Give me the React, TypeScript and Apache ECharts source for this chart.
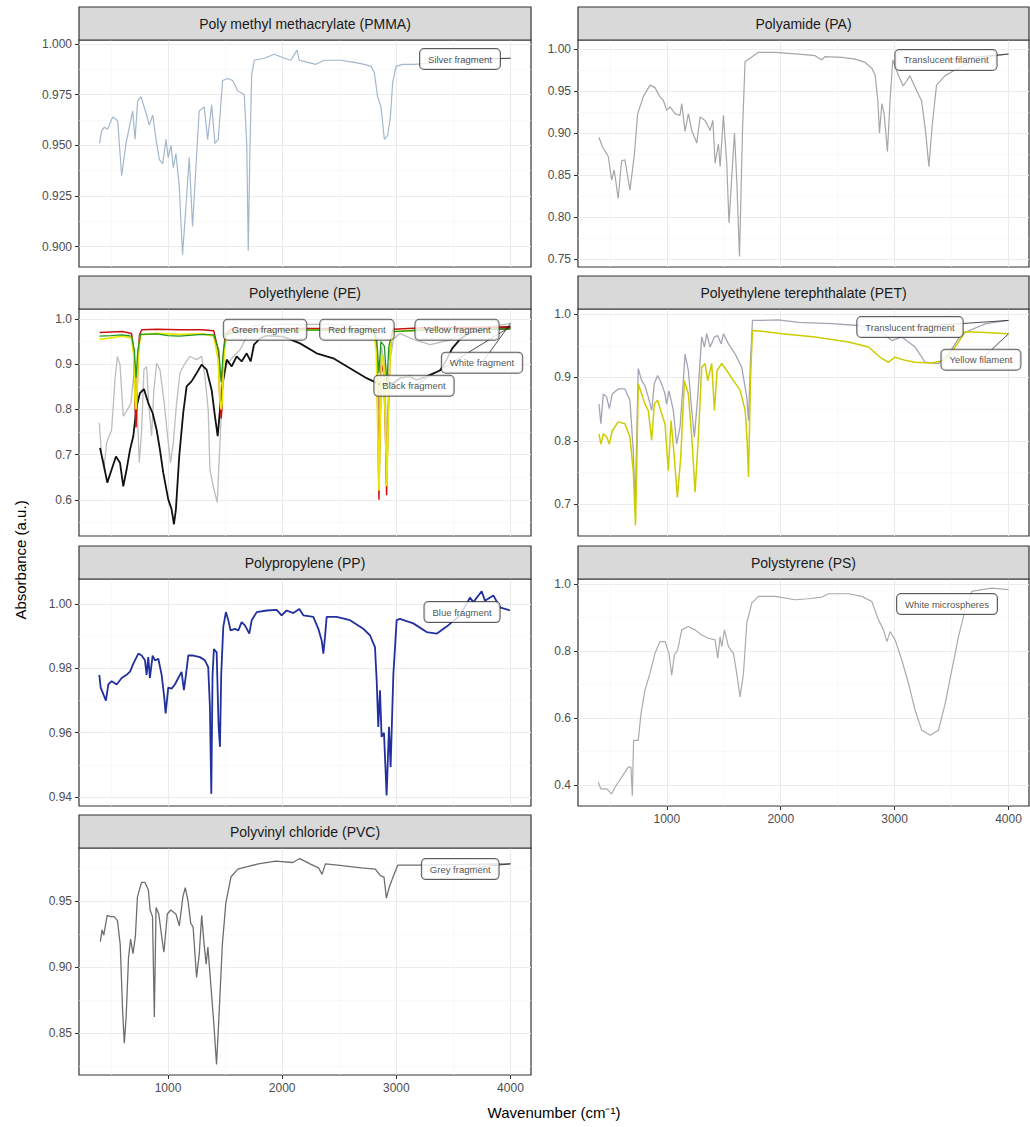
import React, { useEffect, useRef } from "react";
import * as echarts from "echarts";

const X_MIN = 220;
const X_MAX = 4180;
const X_TICKS = [1000, 2000, 3000, 4000];
const X_MINOR = [500, 1500, 2500, 3500];

const PMMA_SILVER = [[400,0.951],[418,0.957],[442,0.959],[470,0.958],[515,0.964],[540,0.963],[559,0.962],[594,0.935],[632,0.951],[661,0.959],[690,0.967],[711,0.953],[734,0.972],[763,0.974],[807,0.966],[836,0.960],[866,0.965],[895,0.953],[924,0.943],[953,0.941],[982,0.953],[1002,0.944],[1026,0.950],[1046,0.939],[1069,0.946],[1098,0.930],[1127,0.896],[1157,0.920],[1186,0.944],[1215,0.910],[1244,0.939],[1273,0.967],[1317,0.969],[1347,0.953],[1382,0.970],[1411,0.951],[1440,0.953],[1478,0.982],[1522,0.983],[1566,0.982],[1610,0.977],[1668,0.975],[1690,0.950],[1703,0.898],[1718,0.950],[1733,0.985],[1756,0.992],[1844,0.993],[1931,0.995],[2019,0.993],[2077,0.992],[2130,0.997],[2150,0.992],[2223,0.991],[2296,0.990],[2369,0.992],[2515,0.992],[2632,0.991],[2720,0.990],[2778,0.989],[2807,0.986],[2836,0.974],[2866,0.969],[2895,0.953],[2924,0.955],[2948,0.964],[2968,0.981],[2997,0.989],[3056,0.990],[3158,0.990],[3400,0.991],[3700,0.992],[4000,0.993]];

const PA_TRANSLUCENT = [[404,0.895],[433,0.884],[486,0.872],[515,0.844],[538,0.856],[573,0.822],[603,0.867],[632,0.868],[676,0.832],[714,0.873],[744,0.923],[793,0.943],[852,0.957],[896,0.954],[940,0.943],[969,0.939],[999,0.927],[1028,0.931],[1072,0.923],[1116,0.921],[1131,0.935],[1160,0.902],[1189,0.923],[1219,0.903],[1263,0.888],[1292,0.919],[1336,0.915],[1380,0.903],[1404,0.915],[1424,0.864],[1453,0.887],[1468,0.860],[1497,0.921],[1526,0.864],[1546,0.793],[1570,0.848],[1594,0.900],[1614,0.844],[1638,0.753],[1664,0.901],[1687,0.985],[1731,0.989],[1804,0.996],[1951,0.996],[2156,0.994],[2302,0.992],[2360,0.987],[2390,0.991],[2536,0.990],[2653,0.988],[2741,0.984],[2800,0.977],[2829,0.969],[2853,0.938],[2867,0.900],[2888,0.935],[2908,0.923],[2937,0.878],[2961,0.941],[2984,0.987],[3032,0.969],[3076,0.956],[3134,0.968],[3178,0.955],[3237,0.938],[3272,0.902],[3301,0.860],[3330,0.909],[3368,0.957],[3441,0.968],[3529,0.975],[3617,0.981],[3800,0.990],[4000,0.994]];

const PE_WHITE = [[398,0.770],[418,0.696],[439,0.667],[462,0.726],[506,0.755],[535,0.865],[556,0.917],[579,0.899],[608,0.785],[643,0.799],[675,0.814],[710,0.902],[730,0.799],[748,0.682],[769,0.755],[789,0.888],[812,0.895],[835,0.799],[856,0.741],[876,0.843],[900,0.902],[929,0.888],[967,0.814],[996,0.741],[1022,0.682],[1046,0.726],[1075,0.814],[1104,0.880],[1148,0.902],[1192,0.917],[1250,0.910],[1294,0.917],[1323,0.873],[1352,0.799],[1367,0.667],[1396,0.630],[1431,0.594],[1455,0.726],[1478,0.858],[1514,0.899],[1572,0.917],[1631,0.932],[1689,0.961],[1747,0.985],[2000,0.988],[2400,0.988],[2750,0.985],[2820,0.975],[2848,0.800],[2870,0.940],[2895,0.900],[2917,0.730],[2940,0.900],[2975,0.955],[3030,0.968],[3150,0.955],[3296,0.943],[3450,0.952],[3558,0.965],[3750,0.980],[4000,0.990]];

const PE_BLACK = [[404,0.715],[433,0.682],[468,0.638],[506,0.667],[544,0.696],[579,0.682],[608,0.630],[637,0.667],[667,0.711],[696,0.741],[725,0.807],[754,0.836],[789,0.845],[827,0.814],[865,0.792],[900,0.755],[929,0.711],[958,0.660],[1002,0.601],[1031,0.579],[1052,0.546],[1069,0.579],[1098,0.696],[1133,0.792],[1163,0.851],[1206,0.862],[1250,0.880],[1294,0.899],[1338,0.888],[1382,0.843],[1411,0.785],[1435,0.741],[1455,0.799],[1484,0.865],[1514,0.910],[1558,0.895],[1601,0.917],[1645,0.906],[1689,0.924],[1724,0.906],[1753,0.943],[1806,0.957],[1864,0.963],[2010,0.961],[2156,0.946],[2302,0.924],[2448,0.913],[2594,0.891],[2740,0.869],[2857,0.855],[2974,0.858],[3032,0.869],[3120,0.873],[3178,0.865],[3266,0.873],[3310,0.878],[3383,0.886],[3430,0.905],[3490,0.935],[3558,0.955],[3640,0.970],[3800,0.978],[4000,0.983]];

const PE_RED = [[400,0.970],[500,0.971],[600,0.972],[680,0.968],[700,0.930],[712,0.800],[720,0.760],[728,0.820],[735,0.900],[750,0.965],[770,0.976],[900,0.977],[1100,0.976],[1300,0.976],[1400,0.974],[1440,0.930],[1455,0.810],[1465,0.780],[1472,0.800],[1480,0.900],[1500,0.965],[1550,0.977],[2000,0.979],[2500,0.979],[2800,0.978],[2830,0.930],[2840,0.750],[2848,0.600],[2856,0.750],[2870,0.900],[2890,0.880],[2905,0.750],[2915,0.610],[2925,0.750],[2945,0.930],[2970,0.977],[3200,0.980],[3600,0.981],[4000,0.982]];

const PE_YELLOW = [[400,0.955],[500,0.958],[600,0.962],[680,0.958],[700,0.920],[712,0.820],[720,0.800],[728,0.840],[740,0.930],[760,0.965],[900,0.968],[1100,0.966],[1300,0.967],[1400,0.962],[1440,0.910],[1455,0.820],[1465,0.800],[1475,0.820],[1490,0.920],[1510,0.965],[1600,0.972],[2000,0.975],[2500,0.976],[2800,0.974],[2825,0.930],[2838,0.750],[2848,0.620],[2858,0.760],[2872,0.920],[2890,0.900],[2905,0.760],[2917,0.630],[2928,0.770],[2948,0.940],[2975,0.972],[3200,0.975],[3600,0.977],[4000,0.978]];

const PE_GREEN = [[400,0.962],[500,0.963],[600,0.965],[680,0.962],[705,0.930],[720,0.870],[735,0.930],[760,0.966],[900,0.967],[1000,0.963],[1100,0.962],[1300,0.966],[1400,0.965],[1445,0.930],[1465,0.860],[1485,0.930],[1510,0.966],[1600,0.972],[2000,0.975],[2500,0.976],[2800,0.975],[2830,0.950],[2848,0.880],[2865,0.950],[2895,0.940],[2917,0.860],[2935,0.940],[2965,0.972],[3200,0.975],[3600,0.977],[4000,0.978]];

const PET_TRANSLUCENT = [[404,0.858],[421,0.827],[442,0.874],[472,0.869],[495,0.851],[521,0.874],[573,0.882],[632,0.882],[676,0.864],[705,0.785],[722,0.700],[735,0.800],[749,0.914],[779,0.895],[808,0.887],[837,0.869],[867,0.848],[890,0.890],[919,0.903],[954,0.890],[984,0.874],[998,0.858],[1019,0.879],[1057,0.848],[1086,0.795],[1116,0.822],[1145,0.895],[1160,0.937],[1189,0.911],[1219,0.848],[1242,0.806],[1271,0.869],[1306,0.964],[1330,0.948],[1350,0.969],[1380,0.948],[1418,0.964],[1447,0.966],[1477,0.953],[1497,0.969],[1541,0.953],[1600,0.937],[1658,0.916],[1702,0.869],[1717,0.832],[1735,0.930],[1752,0.990],[1834,0.990],[1980,0.991],[2156,0.987],[2448,0.985],[2682,0.982],[2887,0.972],[2975,0.958],[3063,0.964],[3180,0.948],[3268,0.924],[3385,0.922],[3473,0.937],[3590,0.969],[3800,0.985],[4000,0.990]];

const PET_YELLOW = [[404,0.811],[421,0.795],[442,0.811],[472,0.806],[495,0.795],[521,0.816],[573,0.830],[632,0.827],[676,0.806],[705,0.753],[725,0.667],[740,0.800],[749,0.890],[779,0.874],[808,0.858],[837,0.848],[867,0.801],[890,0.858],[919,0.864],[954,0.843],[984,0.827],[1013,0.753],[1037,0.832],[1066,0.774],[1092,0.711],[1122,0.774],[1154,0.895],[1189,0.874],[1219,0.806],[1248,0.719],[1277,0.806],[1306,0.916],[1336,0.922],[1359,0.895],[1394,0.922],[1418,0.848],[1441,0.911],[1482,0.922],[1526,0.911],[1585,0.895],[1643,0.880],[1688,0.848],[1705,0.800],[1717,0.743],[1735,0.900],[1752,0.974],[1834,0.973],[2010,0.969],[2302,0.964],[2595,0.956],[2770,0.948],[2887,0.930],[2946,0.924],[3004,0.932],[3092,0.927],[3180,0.924],[3326,0.923],[3444,0.927],[3531,0.948],[3619,0.972],[3800,0.971],[4000,0.969]];

const PP_BLUE = [[398,0.978],[410,0.974],[433,0.972],[456,0.970],[477,0.975],[506,0.976],[550,0.975],[594,0.977],[637,0.978],[667,0.979],[696,0.9815],[740,0.9846],[769,0.984],[798,0.9825],[812,0.978],[827,0.9835],[841,0.977],[865,0.984],[885,0.9825],[915,0.983],[944,0.978],[967,0.971],[979,0.966],[1002,0.974],[1031,0.9737],[1060,0.975],[1090,0.977],[1119,0.9789],[1139,0.9732],[1157,0.978],[1177,0.984],[1221,0.984],[1279,0.9835],[1323,0.9825],[1352,0.9804],[1367,0.968],[1379,0.941],[1390,0.978],[1402,0.986],[1426,0.985],[1443,0.962],[1455,0.9556],[1466,0.978],[1484,0.9929],[1507,0.9975],[1528,0.995],[1548,0.9918],[1586,0.9923],[1616,0.9918],[1645,0.9944],[1674,0.9934],[1712,0.9908],[1733,0.995],[1777,0.9975],[1864,0.998],[1952,0.9982],[1995,0.9965],[2039,0.998],[2098,0.9972],[2150,0.9985],[2185,0.9965],[2273,0.996],[2317,0.9923],[2346,0.9887],[2361,0.9846],[2375,0.9897],[2390,0.996],[2477,0.996],[2594,0.995],[2711,0.9923],[2769,0.9903],[2813,0.9866],[2828,0.9763],[2842,0.9618],[2857,0.9732],[2871,0.9587],[2892,0.960],[2915,0.9405],[2936,0.9618],[2950,0.9493],[2974,0.978],[3003,0.995],[3032,0.9954],[3149,0.994],[3266,0.9913],[3353,0.9908],[3441,0.993],[3558,0.9965],[3645,1.002],[3675,1.0006],[3748,1.004],[3777,1.001],[3850,1.0027],[3908,0.999],[3996,0.998]];

const PS_WHITE = [[398,0.408],[421,0.388],[472,0.388],[515,0.373],[545,0.393],[603,0.423],[662,0.453],[685,0.453],[697,0.368],[708,0.533],[749,0.533],[773,0.613],[808,0.683],[852,0.733],[896,0.793],[940,0.828],[984,0.828],[1019,0.793],[1043,0.728],[1066,0.788],[1095,0.803],[1131,0.863],[1189,0.873],[1248,0.863],[1306,0.848],[1365,0.838],[1424,0.833],[1447,0.778],[1468,0.843],[1482,0.813],[1506,0.863],[1541,0.813],[1585,0.793],[1614,0.733],[1643,0.663],[1673,0.733],[1702,0.883],[1746,0.943],[1804,0.963],[1951,0.963],[2127,0.953],[2244,0.956],[2361,0.961],[2419,0.971],[2595,0.971],[2712,0.963],[2800,0.948],[2858,0.893],[2902,0.863],[2932,0.828],[2961,0.858],[3005,0.833],[3063,0.773],[3122,0.703],[3180,0.623],[3239,0.563],[3312,0.548],[3385,0.563],[3444,0.643],[3502,0.743],[3561,0.843],[3619,0.923],[3678,0.978],[3766,0.983],[3853,0.988],[4000,0.983]];

const PVC_GREY = [[407,0.919],[422,0.928],[437,0.924],[467,0.939],[497,0.938],[527,0.938],[557,0.935],[581,0.917],[602,0.867],[617,0.842],[633,0.862],[654,0.907],[672,0.921],[693,0.910],[714,0.923],[732,0.953],[768,0.964],[798,0.964],[828,0.958],[843,0.943],[864,0.938],[880,0.862],[895,0.945],[919,0.940],[949,0.920],[964,0.911],[994,0.940],[1024,0.943],[1069,0.940],[1099,0.931],[1130,0.953],[1151,0.960],[1175,0.950],[1199,0.933],[1220,0.930],[1250,0.892],[1274,0.910],[1295,0.939],[1316,0.917],[1334,0.902],[1349,0.915],[1370,0.892],[1401,0.857],[1425,0.826],[1446,0.862],[1476,0.917],[1506,0.948],[1551,0.968],[1611,0.974],[1702,0.976],[1792,0.978],[1943,0.980],[2093,0.979],[2154,0.982],[2244,0.978],[2319,0.975],[2349,0.970],[2379,0.978],[2485,0.977],[2696,0.975],[2816,0.974],[2861,0.969],[2892,0.968],[2913,0.952],[2937,0.960],[2967,0.967],[3012,0.977],[3193,0.977],[4000,0.978]];

const PMMA_Y = [0.900, 0.925, 0.950, 0.975, 1.000];
const PMMA_Y_MINOR = [0.9125, 0.9375, 0.9625, 0.9875];
const PA_Y = [0.75, 0.80, 0.85, 0.90, 0.95, 1.00];
const PA_Y_MINOR = [0.775, 0.825, 0.875, 0.925, 0.975];
const PE_Y = [0.6, 0.7, 0.8, 0.9, 1.0];
const PE_Y_MINOR = [0.55, 0.65, 0.75, 0.85, 0.95];
const PET_Y = [0.7, 0.8, 0.9, 1.0];
const PET_Y_MINOR = [0.75, 0.85, 0.95];
const PP_Y = [0.94, 0.96, 0.98, 1.00];
const PP_Y_MINOR = [0.95, 0.97, 0.99];
const PS_Y = [0.4, 0.6, 0.8, 1.0];
const PS_Y_MINOR = [0.5, 0.7, 0.9];
const PVC_Y = [0.85, 0.90, 0.95];
const PVC_Y_MINOR = [0.825, 0.875, 0.925, 0.975];

type Spec = { name: string; color: string; width: number; data: number[][] };
type Lbl = { text: string; x: number; y: number; series: number; leader: boolean };
type Panel = {
  title: string; col: number; row: number; yMin: number; yMax: number;
  yTicks: number[]; yMinor: number[]; dec: number; xLabels: boolean;
  specs: Spec[]; labels: Lbl[];
};

const PANELS: Panel[] = [
  {
    title: "Poly methyl methacrylate (PMMA)", col: 0, row: 0, yMin: 0.890, yMax: 1.002,
    yTicks: PMMA_Y, yMinor: PMMA_Y_MINOR, dec: 3, xLabels: false,
    specs: [{ name: "Silver fragment", color: "#A3B7CC", width: 1.2, data: PMMA_SILVER }],
    labels: [{ text: "Silver fragment", x: 3558, y: 0.9926, series: 0, leader: true }],
  },
  {
    title: "Polyamide (PA)", col: 1, row: 0, yMin: 0.7405, yMax: 1.0107,
    yTicks: PA_Y, yMinor: PA_Y_MINOR, dec: 2, xLabels: false,
    specs: [{ name: "Translucent filament", color: "#A6A6A6", width: 1.2, data: PA_TRANSLUCENT }],
    labels: [{ text: "Translucent filament", x: 3451, y: 0.987, series: 0, leader: true }],
  },
  {
    title: "Polyethylene (PE)", col: 0, row: 1, yMin: 0.52, yMax: 1.022,
    yTicks: PE_Y, yMinor: PE_Y_MINOR, dec: 1, xLabels: false,
    specs: [
      { name: "White fragment", color: "#BDBDBD", width: 1.3, data: PE_WHITE },
      { name: "Black fragment", color: "#111111", width: 1.8, data: PE_BLACK },
      { name: "Red fragment", color: "#CC1111", width: 1.5, data: PE_RED },
      { name: "Yellow fragment", color: "#E8E800", width: 1.8, data: PE_YELLOW },
      { name: "Green fragment", color: "#229922", width: 1.3, data: PE_GREEN },
    ],
    labels: [
      { text: "Green fragment", x: 1850, y: 0.976, series: 4, leader: false },
      { text: "Red fragment", x: 2655, y: 0.976, series: 2, leader: false },
      { text: "Yellow fragment", x: 3532, y: 0.976, series: 3, leader: true },
      { text: "White fragment", x: 3751, y: 0.903, series: 0, leader: true },
      { text: "Black fragment", x: 3155, y: 0.852, series: 1, leader: true },
    ],
  },
  {
    title: "Polyethylene terephthalate (PET)", col: 1, row: 1, yMin: 0.65, yMax: 1.008,
    yTicks: PET_Y, yMinor: PET_Y_MINOR, dec: 1, xLabels: false,
    specs: [
      { name: "Translucent fragment", color: "#A4A4B4", width: 1.3, data: PET_TRANSLUCENT },
      { name: "Yellow filament", color: "#CCCC00", width: 1.5, data: PET_YELLOW },
    ],
    labels: [
      { text: "Translucent fragment", x: 3135, y: 0.9795, series: 0, leader: true },
      { text: "Yellow filament", x: 3758, y: 0.928, series: 1, leader: true },
    ],
  },
  {
    title: "Polypropylene (PP)", col: 0, row: 2, yMin: 0.9372, yMax: 1.0078,
    yTicks: PP_Y, yMinor: PP_Y_MINOR, dec: 2, xLabels: false,
    specs: [{ name: "Blue fragment", color: "#22309E", width: 1.8, data: PP_BLUE }],
    labels: [{ text: "Blue fragment", x: 3576, y: 0.9975, series: 0, leader: false }],
  },
  {
    title: "Polystyrene (PS)", col: 1, row: 2, yMin: 0.337, yMax: 1.015,
    yTicks: PS_Y, yMinor: PS_Y_MINOR, dec: 1, xLabels: true,
    specs: [{ name: "White microspheres", color: "#ABABAB", width: 1.2, data: PS_WHITE }],
    labels: [{ text: "White microspheres", x: 3460, y: 0.94, series: 0, leader: false }],
  },
  {
    title: "Polyvinyl chloride (PVC)", col: 0, row: 3, yMin: 0.818, yMax: 0.990,
    yTicks: PVC_Y, yMinor: PVC_Y_MINOR, dec: 2, xLabels: true,
    specs: [{ name: "Grey fragment", color: "#6E6E6E", width: 1.3, data: PVC_GREY }],
    labels: [{ text: "Grey fragment", x: 3560, y: 0.974, series: 0, leader: true }],
  },
];

const COL_LEFT = [79, 578];
const COL_WIDTH = [452, 451];
const ROW_TOP = [40, 309, 579, 848];
const PLOT_H = 227;
const STRIP_H = 33;
const FONT = "'Liberation Sans', Arial, Helvetica, sans-serif";

function buildOption() {
  const grid: any[] = [];
  const xAxis: any[] = [];
  const yAxis: any[] = [];
  const series: any[] = [];
  const graphic: any[] = [];

  PANELS.forEach((p, i) => {
    const left = COL_LEFT[p.col];
    const width = COL_WIDTH[p.col];
    const top = ROW_TOP[p.row];
    grid.push({
      left, top, width, height: PLOT_H, show: true,
      borderColor: "#333333", borderWidth: 1.2, backgroundColor: "#ffffff",
    });
    xAxis.push({
      type: "value", gridIndex: i, min: X_MIN, max: X_MAX, position: "bottom",
      axisLine: { show: false },
      axisTick: { show: p.xLabels, length: 4, lineStyle: { color: "#333333", width: 1 }, customValues: X_TICKS },
      axisLabel: {
        show: p.xLabels, customValues: X_TICKS, color: "#4D4D4D", fontSize: 12, margin: 7, fontFamily: FONT,
        formatter: (v: number) => String(Math.round(v)),
      },
      splitLine: { show: true, lineStyle: { color: "#EBEBEB", width: 1 } },
    });
    xAxis.push({
      type: "value", gridIndex: i, min: X_MIN, max: X_MAX, position: "top",
      axisLine: { show: false },
      axisTick: { show: false, customValues: X_MINOR },
      axisLabel: { show: false, customValues: X_MINOR },
      splitLine: { show: true, lineStyle: { color: "#F5F5F5", width: 0.6 } },
    });
    yAxis.push({
      type: "value", gridIndex: i, min: p.yMin, max: p.yMax, position: "left",
      axisLine: { show: false },
      axisTick: { show: true, length: 4, lineStyle: { color: "#333333", width: 1 }, customValues: p.yTicks },
      axisLabel: {
        show: true, customValues: p.yTicks, color: "#4D4D4D", fontSize: 12, margin: 7, fontFamily: FONT,
        formatter: (v: number) => v.toFixed(p.dec),
      },
      splitLine: { show: true, lineStyle: { color: "#EBEBEB", width: 1 } },
    });
    yAxis.push({
      type: "value", gridIndex: i, min: p.yMin, max: p.yMax, position: "right",
      axisLine: { show: false },
      axisTick: { show: false, customValues: p.yMinor },
      axisLabel: { show: false, customValues: p.yMinor },
      splitLine: { show: true, lineStyle: { color: "#F5F5F5", width: 0.6 } },
    });

    p.specs.forEach((s) => {
      series.push({
        type: "line", name: s.name, xAxisIndex: 2 * i, yAxisIndex: 2 * i,
        data: s.data, showSymbol: false, symbol: "none", silent: true, z: 2,
        lineStyle: { color: s.color, width: s.width }, itemStyle: { color: s.color },
      });
    });

    p.labels.forEach((l) => {
      const sd = p.specs[l.series].data;
      const end = sd[sd.length - 1];
      if (l.leader) {
        series.push({
          type: "line", xAxisIndex: 2 * i, yAxisIndex: 2 * i,
          data: [[end[0], end[1]], [l.x, l.y]], showSymbol: false, symbol: "none", silent: true, z: 3,
          lineStyle: { color: "#222222", width: 0.8 },
        });
      }
      series.push({
        type: "scatter", xAxisIndex: 2 * i, yAxisIndex: 2 * i, data: [[l.x, l.y]],
        symbolSize: 1, silent: true, z: 4, itemStyle: { color: "rgba(0,0,0,0)" },
        label: {
          show: true, position: "inside", formatter: l.text, fontSize: 9.5, color: "#222222", fontFamily: FONT,
          backgroundColor: "#ffffff", borderColor: "#333333", borderWidth: 1, borderRadius: 4, padding: [5, 8],
        },
      });
    });

    graphic.push({
      type: "rect", z: 10,
      shape: { x: left, y: top - STRIP_H, width, height: STRIP_H },
      style: { fill: "#D9D9D9", stroke: "#333333", lineWidth: 1.2 },
    });
    graphic.push({
      type: "text", z: 11, x: left + width / 2, y: top - STRIP_H / 2,
      style: {
        text: p.title, fontSize: 14, fill: "#1A1A1A", fontFamily: FONT,
        textAlign: "center", textVerticalAlign: "middle", align: "center", verticalAlign: "middle",
      },
    });
  });

  graphic.push({
    type: "text", z: 11, x: 20, y: 560, rotation: Math.PI / 2,
    style: {
      text: "Absorbance (a.u.)", fontSize: 15, fill: "#000000", fontFamily: FONT,
      textAlign: "center", textVerticalAlign: "middle", align: "center", verticalAlign: "middle",
    },
  });
  graphic.push({
    type: "text", z: 11, x: 554, y: 1112,
    style: {
      text: "Wavenumber (cm⁻¹)", fontSize: 15, fill: "#000000", fontFamily: FONT,
      textAlign: "center", textVerticalAlign: "middle", align: "center", verticalAlign: "middle",
    },
  });

  return {
    animation: false,
    backgroundColor: "#ffffff",
    textStyle: { fontFamily: FONT },
    grid, xAxis, yAxis, series, graphic,
  };
}

export default function App() {
  const ref = useRef<HTMLDivElement>(null);
  useEffect(() => {
    document.body.style.margin = "0";
    if (!ref.current) return;
    const chart = echarts.init(ref.current, undefined, { renderer: "svg" });
    chart.setOption(buildOption() as any);
    return () => chart.dispose();
  }, []);
  return <div ref={ref} style={{ width: 1030, height: 1127 }} />;
}
